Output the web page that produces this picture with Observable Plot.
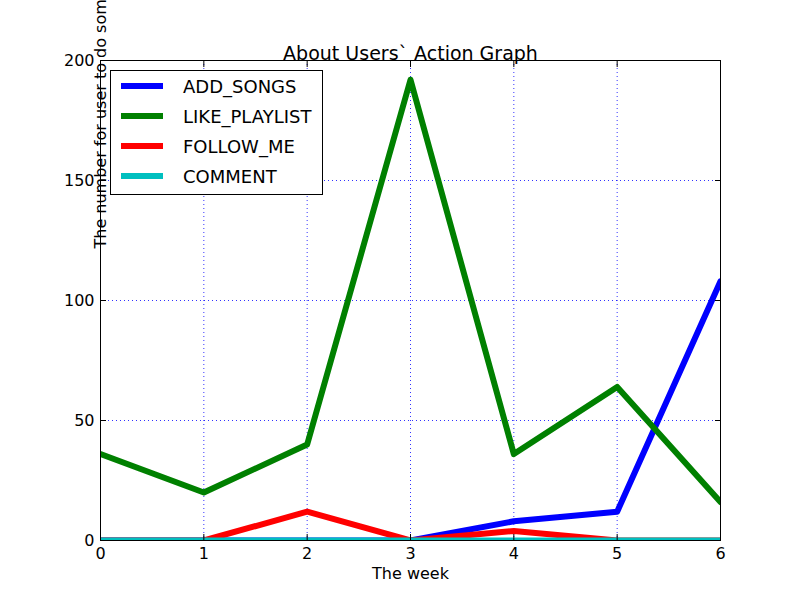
<!DOCTYPE html><html><head><meta charset="utf-8">
<script src="https://cdn.jsdelivr.net/npm/d3@7"></script>
<script src="https://cdn.jsdelivr.net/npm/@observablehq/plot@0.6"></script>
<style>body{margin:0;background:#fff;font-family:"DejaVu Sans"}#c{position:relative;width:800px;height:600px}
#lg{position:absolute;left:110px;top:70px;width:213px;height:125px;border:1px solid #000;background:#fff;box-sizing:border-box;font:18px "DejaVu Sans"}
#lg div{display:flex;align-items:center;height:30px;margin-left:10px}#lg span{display:inline-block;width:42px;height:6px;margin-right:20px}</style>
</head><body><div id="c"></div><script>
const weeks=[0,1,2,3,4,5,6];
const series=["ADD_SONGS","LIKE_PLAYLIST","FOLLOW_ME","COMMENT"];
const colors=["#0000ff","#008000","#ff0000","#00bfbf"];
const addSongs=[0,0,0,0,8,12,108];
const likePlaylist=[36,20,40,192,36,64,16];
const followMe=[0,0,12,0,4,0,0];
const comment=[0,0,0,0,0,0,0];
const vals=[addSongs,likePlaylist,followMe,comment];
const data=series.flatMap((s,i)=>weeks.map((w,j)=>({s,w,v:vals[i][j]})));
const xt=weeks, yt=[0,50,100,150,200];
const p=Plot.plot({width:800,height:600,marginLeft:100,marginRight:80,marginTop:60,marginBottom:60,
style:{fontFamily:"DejaVu Sans",fontSize:"15px",color:"#000"},
x:{domain:[0,6],ticks:xt,label:null},y:{domain:[0,200],ticks:yt,label:null},
color:{domain:series,range:colors},
marks:[
Plot.gridX(xt,{stroke:"#0000ff",strokeOpacity:0.8,strokeDasharray:"1,3"}),
Plot.gridY(yt,{stroke:"#0000ff",strokeOpacity:0.8,strokeDasharray:"1,3"}),
Plot.line(data,{x:"w",y:"v",z:"s",stroke:"s",strokeWidth:6,clip:true}),
Plot.frame({stroke:"#000"}),
Plot.axisX(xt,{tickSize:-6,tickPadding:13,fontSize:16}),
Plot.axisX(xt,{anchor:"top",tickSize:-6,text:null}),
Plot.axisY(yt,{tickSize:-6,tickPadding:12,fontSize:16}),
Plot.axisY(yt,{anchor:"right",tickSize:-6,text:null}),
Plot.text(["About Users` Action Graph"],{frameAnchor:"top",dy:-14,fontSize:19}),
Plot.text(["The week"],{frameAnchor:"bottom",dy:38,fontSize:16}),
Plot.text(["The number for user to do some action"],{frameAnchor:"left",dy:-52,rotate:-90,fontSize:16})
]});
const c=document.getElementById("c");c.appendChild(p);
const lg=document.createElement("div");lg.id="lg";
series.forEach((s,i)=>{const d=document.createElement("div");d.innerHTML=`<span style="background:${colors[i]}"></span>${s}`;lg.appendChild(d)});
c.appendChild(lg);
</script></body></html>
